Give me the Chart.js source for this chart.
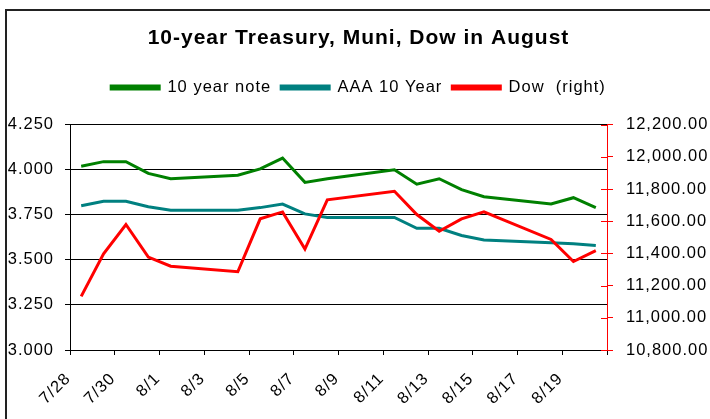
<!DOCTYPE html>
<html>
<head>
<meta charset="utf-8">
<script src="https://cdn.jsdelivr.net/npm/chart.js@4.4.1/dist/chart.umd.min.js"></script>
<style>
  html, body { margin: 0; padding: 0; background: #fff; }
  canvas { display: block; }
</style>
</head>
<body>
<canvas id="chart" width="710" height="419"></canvas>
<script>
// trading days of 2008, weekends left empty so the dates keep their spacing
const days = ['7/28', '7/29', '7/30', '7/31', '8/1', '8/2', '8/3', '8/4', '8/5', '8/6', '8/7', '8/8',
  '8/9', '8/10', '8/11', '8/12', '8/13', '8/14', '8/15', '8/16', '8/17', '8/18', '8/19', '8/20'];

const note10 = [4.02, 4.045, 4.045, 3.98, 3.95, null, null, 3.97, 4.005, 4.065, 3.93, 3.95,
  null, null, 4.00, 3.92, 3.95, 3.89, 3.85, null, null, 3.81, 3.845, 3.79];

const aaa10 = [3.80, 3.825, 3.825, 3.795, 3.775, null, null, 3.775, 3.79, 3.81, 3.755, 3.735,
  null, null, 3.735, 3.675, 3.675, 3.635, 3.61, null, null, 3.595, 3.59, 3.58];

const dow = [11133, 11398, 11580, 11377, 11321, null, null, 11286, 11615, 11658, 11427, 11733,
  null, null, 11786, 11642, 11538, 11615, 11658, null, null, 11487, 11350, 11418];

const leftTicks = { min: 3.0, max: 4.25, step: 0.25 };
const rightTicks = { min: 10800, max: 12200, step: 200 };

const FONT = '"Liberation Sans", Arial, sans-serif';

// Excel stretched the text a bit wider, letter spacing gets close to it
const spacing = {
  id: 'spacing',
  beforeUpdate(chart) { chart.ctx.letterSpacing = '1px'; },
  beforeDraw(chart) {
    const ctx = chart.ctx;
    ctx.letterSpacing = '1px';
    // outer frame of the excel chart object
    ctx.save();
    ctx.strokeStyle = '#222';
    ctx.lineWidth = 2;
    ctx.beginPath();
    ctx.moveTo(6, 430);
    ctx.lineTo(6, 10);
    ctx.lineTo(720, 10);
    ctx.stroke();
    ctx.restore();
  }
};

// extra room below the legend
const legendGap = {
  id: 'legendGap',
  beforeInit(chart) {
    const fit = chart.legend.fit;
    chart.legend.fit = function () {
      fit.bind(chart.legend)();
      this.height += 19;
    };
  }
};

// red ticks on the right axis cross into the plot
const crossTicks = {
  id: 'crossTicks',
  afterDraw(chart) {
    const s = chart.scales.y1;
    const ctx = chart.ctx;
    ctx.save();
    ctx.strokeStyle = '#ff0000';
    ctx.lineWidth = 1;
    s.ticks.forEach(t => {
      const y = Math.round(s.getPixelForValue(t.value)) + 0.5;
      ctx.beginPath();
      ctx.moveTo(s.left - 6, y);
      ctx.lineTo(s.left, y);
      ctx.stroke();
    });
    ctx.restore();
  }
};

new Chart(document.getElementById('chart'), {
  type: 'line',
  data: {
    labels: days,
    datasets: [
      { label: '10 year note', data: note10, borderColor: '#008000', backgroundColor: '#008000', yAxisID: 'y', order: 2 },
      { label: 'AAA 10 Year', data: aaa10, borderColor: '#008080', backgroundColor: '#008080', yAxisID: 'y', order: 1 },
      { label: 'Dow  (right)', data: dow, borderColor: '#ff0000', backgroundColor: '#ff0000', yAxisID: 'y1', order: 0 }
    ]
  },
  options: {
    responsive: false,
    animation: false,
    spanGaps: true,
    elements: {
      line: { borderWidth: 3, tension: 0 },
      point: { radius: 0, hoverRadius: 0 }
    },
    layout: { autoPadding: false, padding: { top: 0, left: 8, right: 1, bottom: 0 } },
    plugins: {
      tooltip: { enabled: false },
      title: {
        display: true,
        text: '10-year Treasury, Muni, Dow in August',
        color: '#000',
        font: { family: FONT, size: 21, weight: 'bold' },
        padding: { top: 26, bottom: 18 }
      },
      legend: {
        display: true,
        position: 'top',
        labels: {
          color: '#000',
          font: { family: FONT, size: 16.5 },
          boxWidth: 48,
          boxHeight: 3,
          padding: 10,
          sort: (a, b) => a.datasetIndex - b.datasetIndex
        }
      }
    },
    scales: {
      x: {
        type: 'category',
        offset: true,
        afterFit: s => { s.height = 69; },
        grid: {
          offset: true,
          drawOnChartArea: false,
          tickLength: 5,
          tickColor: c => (c.index === undefined || c.index % 2 === 0) ? '#000' : 'rgba(0,0,0,0)'
        },
        border: { color: '#000', width: 1 },
        ticks: {
          autoSkip: false,
          maxRotation: 45,
          minRotation: 45,
          padding: 14,
          labelOffset: -13,
          color: '#000',
          font: { family: FONT, size: 16.5 },
          callback: function (v, i) { return i % 2 === 0 ? this.getLabelForValue(v) : ''; }
        }
      },
      y: {
        position: 'left',
        min: leftTicks.min,
        max: leftTicks.max,
        afterFit: s => { s.width = 62; },
        grid: { color: '#000', lineWidth: 1, tickLength: 5 },
        border: { color: '#000', width: 1 },
        ticks: {
          stepSize: leftTicks.step,
          padding: 11,
          color: '#000',
          font: { family: FONT, size: 16.5 },
          callback: v => v.toFixed(3)
        }
      },
      y1: {
        position: 'right',
        min: rightTicks.min,
        max: rightTicks.max,
        afterFit: s => { s.width = 102; },
        grid: { drawOnChartArea: false, color: '#ff0000', tickLength: 6 },
        border: { color: '#ff0000', width: 1 },
        ticks: {
          stepSize: rightTicks.step,
          padding: 13,
          color: '#000',
          font: { family: FONT, size: 16.5 },
          callback: v => v.toLocaleString('en-US', { minimumFractionDigits: 2, maximumFractionDigits: 2 })
        }
      }
    }
  },
  plugins: [spacing, legendGap, crossTicks]
});
</script>
</body>
</html>
